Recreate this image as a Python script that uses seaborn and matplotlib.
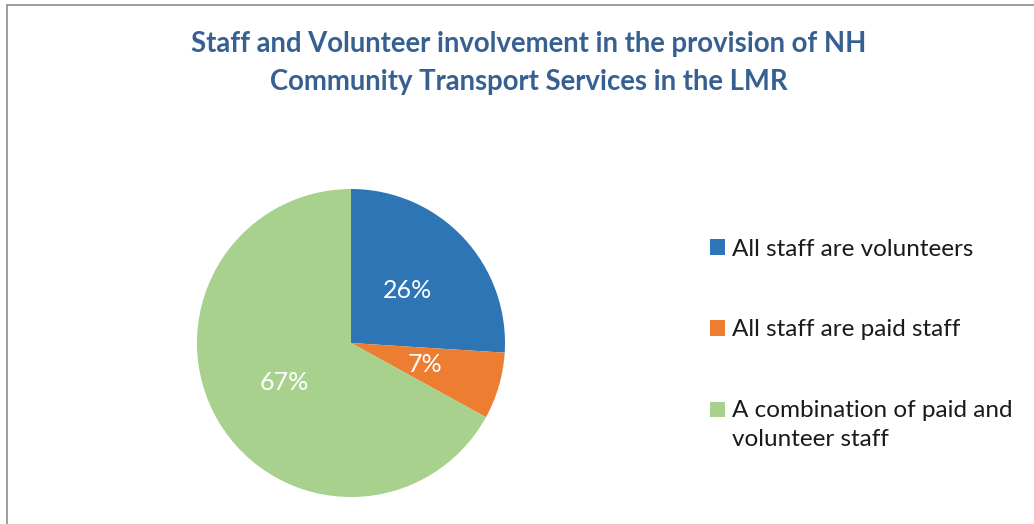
import matplotlib
matplotlib.use("Agg")
import matplotlib.pyplot as plt
import seaborn as sns
from matplotlib.patches import Rectangle
from matplotlib.legend_handler import HandlerPatch

categories = ["All staff are volunteers", "All staff are paid staff",
              "A combination of paid and\nvolunteer staff"]
values = [26, 7, 67]
colors = ["#2E75B6", "#ED7D31", "#A9D18E"]
title = "Staff and Volunteer involvement in the provision of NH\nCommunity Transport Services in the LMR"

sns.set_theme(style="white")
plt.rcParams["font.family"] = ["Lato", "DejaVu Sans"]

fig = plt.figure(figsize=(10.34, 5.24), dpi=100)
fig.patch.set_facecolor("white")

ax = fig.add_axes([0.1905, 0.0515, 0.2979, 0.5878])
palette = sns.color_palette(colors)
wedges, texts, autotexts = ax.pie(values, colors=palette, startangle=90, counterclock=False,
                                  autopct="%1.0f%%", pctdistance=0.5,
                                  textprops=dict(color="white", fontsize=18),
                                  wedgeprops=dict(linewidth=0))
ax.set_xlim(-1, 1)
ax.set_ylim(-1, 1)
ax.set_aspect("equal")
ax.axis("off")

fig.text(0.511, 0.880, title, ha="center", va="center", fontsize=19.8, fontweight="bold",
         color="#376092", linespacing=1.56)

LEG_FS = 17.5
LINESP = 1.45


def make_handler(n_lines):
    shift = 0.5 * (n_lines - 1) * LINESP * LEG_FS * 0.86

    def patch_func(legend, orig_handle, xdescent, ydescent, width, height, fontsize):
        return Rectangle((-xdescent, -ydescent + shift), width, height)
    return HandlerPatch(patch_func=patch_func)


handler_map = {w: make_handler(lab.count("\n") + 1) for w, lab in zip(wedges, categories)}

leg = fig.legend(wedges, categories, loc="upper left", bbox_to_anchor=(0.6654, 0.5859),
                 frameon=False, fontsize=LEG_FS, handlelength=0.62, handleheight=0.62,
                 handletextpad=0.29, labelspacing=2.45, handler_map=handler_map)
for t in leg.get_texts():
    t.set_color("#1a1a1a")
    t.set_linespacing(LINESP)

fig.add_artist(Rectangle((7 / 1034, -0.1), 1.2, (524 - 5) / 524 + 0.1, transform=fig.transFigure,
                         fill=False, edgecolor="#8c8c8c", linewidth=1.2))

fig.savefig("out.png", dpi=100)
